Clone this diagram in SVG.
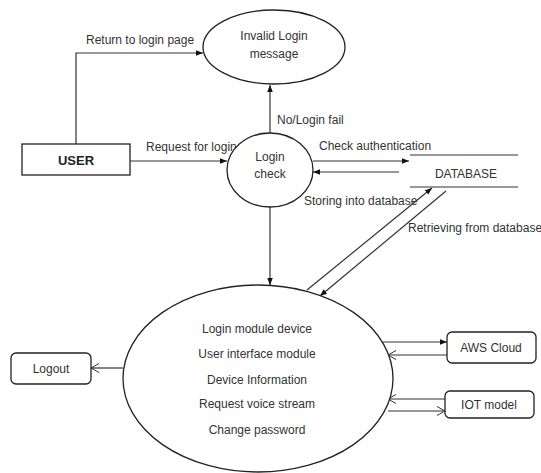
<svg xmlns="http://www.w3.org/2000/svg" width="541" height="473" viewBox="0 0 541 473">
<style>
.shape{fill:#fff;stroke:#222;stroke-width:1.3}
.ln{fill:none;stroke:#333;stroke-width:1.2}
.t{font-family:"Liberation Sans",Arial,sans-serif;font-size:12px;fill:#333;text-anchor:middle}
.lbl{font-family:"Liberation Sans",Arial,sans-serif;font-size:12px;fill:#333}
.b{font-weight:bold;font-size:13px;fill:#222}
</style>
<defs>
<marker id="fa" viewBox="0 0 10 10" refX="10" refY="5" markerWidth="7" markerHeight="7" orient="auto" markerUnits="userSpaceOnUse">
<path d="M0,1 L10,5 L0,9 Z" fill="#111"/>
</marker>
<marker id="oa" viewBox="0 0 10 10" refX="10" refY="5" markerWidth="10" markerHeight="10" orient="auto" markerUnits="userSpaceOnUse">
<path d="M2,0.5 L10,5 L2,9.5" fill="none" stroke="#333" stroke-width="1"/>
</marker>
</defs>
<rect width="541" height="473" fill="#fff"/>
<g id="connectors">
<path class="ln" d="M76,144 V53 H203" marker-end="url(#fa)"/>
<line class="ln" x1="130" y1="161" x2="227" y2="161" marker-end="url(#fa)"/>
<line class="ln" x1="270" y1="133" x2="270" y2="85" marker-end="url(#fa)"/>
<line class="ln" x1="313" y1="161" x2="409" y2="161" marker-end="url(#fa)"/>
<line class="ln" x1="399" y1="172" x2="313" y2="172" marker-end="url(#fa)"/>
<line class="ln" x1="270" y1="207" x2="270" y2="285" marker-end="url(#fa)"/>
<line class="ln" x1="307" y1="290" x2="432" y2="188" marker-end="url(#fa)"/>
<line class="ln" x1="446" y1="191" x2="320" y2="296" marker-end="url(#fa)"/>
<line class="ln" x1="123" y1="368" x2="91" y2="368" marker-end="url(#oa)"/>
<line class="ln" x1="383" y1="342" x2="447" y2="342" marker-end="url(#fa)"/>
<line class="ln" x1="447" y1="355" x2="388" y2="355" marker-end="url(#oa)"/>
<line class="ln" x1="445" y1="399" x2="388" y2="399" marker-end="url(#oa)"/>
<line class="ln" x1="388" y1="411" x2="445" y2="411" marker-end="url(#oa)"/>
<text class="lbl" x="86" y="44">Return to login page</text>
<text class="lbl" x="146" y="151">Request for login</text>
<text class="lbl" x="277" y="124">No/Login fail</text>
<text class="lbl" x="319" y="150">Check authentication</text>
<text class="lbl" x="304" y="205">Storing into database</text>
<text class="lbl" x="408" y="232">Retrieving from database</text>
</g>
<g id="user">
<rect class="shape" x="22" y="144" width="108" height="31"/>
<text class="t b" x="76" y="165">USER</text>
</g>
<g id="invalid-login">
<ellipse class="shape" cx="274" cy="47" rx="71" ry="37"/>
<text class="t" x="274" y="40">Invalid Login</text>
<text class="t" x="274" y="58">message</text>
</g>
<g id="login-check">
<ellipse class="shape" cx="270" cy="170" rx="43" ry="37"/>
<text class="t" x="270" y="161">Login</text>
<text class="t" x="270" y="178">check</text>
</g>
<g id="database">
<line class="ln" x1="410" y1="155" x2="518" y2="155"/>
<line class="ln" x1="410" y1="187" x2="518" y2="187"/>
<text class="t" x="466" y="178">DATABASE</text>
</g>
<g id="main-process">
<ellipse class="shape" cx="258" cy="378.5" rx="135" ry="93.5"/>
<text class="t" x="257" y="333">Login module device</text>
<text class="t" x="257" y="358">User interface module</text>
<text class="t" x="257" y="384">Device Information</text>
<text class="t" x="257" y="408">Request voice stream</text>
<text class="t" x="257" y="434">Change password</text>
</g>
<g id="logout">
<rect class="shape" x="11" y="353" width="80" height="31" rx="5"/>
<text class="t" x="51" y="373">Logout</text>
</g>
<g id="aws-cloud">
<rect class="shape" x="447" y="332" width="89" height="31" rx="5"/>
<text class="t" x="491" y="352">AWS Cloud</text>
</g>
<g id="iot-model">
<rect class="shape" x="445" y="391" width="89" height="27" rx="5"/>
<text class="t" x="489" y="409">IOT model</text>
</g>
</svg>
